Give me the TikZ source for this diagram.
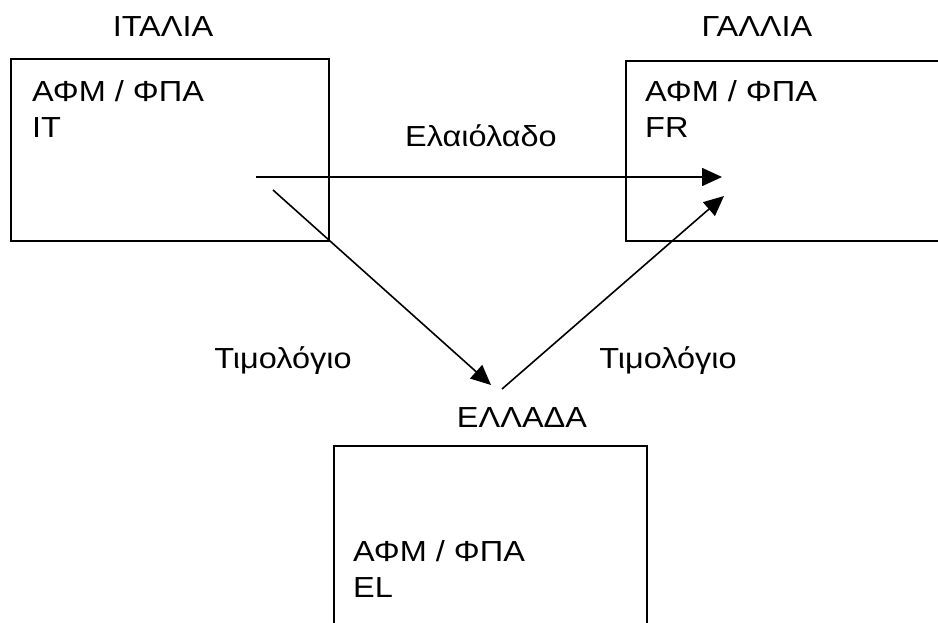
\documentclass[tikz,border=0pt]{standalone}
\usepackage{fontspec}
\setmainfont[FakeStretch=1.12]{Liberation Sans}
\usetikzlibrary{arrows.meta}

\tikzset{
  country/.style={draw, line width=1.8pt, anchor=north west, inner sep=0pt},
  vatinfo/.style={anchor=north west, inner sep=0pt, align=left,
    font=\fontsize{29}{36}\selectfont},
  caption/.style={anchor=base, inner sep=0pt, font=\fontsize{29}{34}\selectfont},
  flow/.style={line width=1.6pt, -{Triangle[length=20pt, width=18pt]}}
}

\begin{document}
\begin{tikzpicture}[x=1pt, y=-1pt]
    \useasboundingbox (0,0) rectangle (938,623);

    % countries
    \node[country, minimum width=318pt, minimum height=182pt] (italy) at (10,58) {};
    \node[country, minimum width=330pt, minimum height=180pt] (france) at (625,60) {};
    \node[country, minimum width=313pt, minimum height=200pt] (greece) at (333,445) {};

    \node[caption] (italyname) at (163,37) {ΙΤΑΛΙΑ};
    \node[caption] (francename) at (757,37) {ΓΑΛΛΙΑ};
    \node[caption] (greecename) at (522,427) {ΕΛΛΑΔΑ};

    \node[vatinfo] (italyvat) at (32,80) {ΑΦΜ / ΦΠΑ\\IT};
    \node[vatinfo] (francevat) at (645,80) {ΑΦΜ / ΦΠΑ\\FR};
    \node[vatinfo] (greecevat) at (353,540) {ΑΦΜ / ΦΠΑ\\EL};

    % flows of goods and invoices
    \coordinate (goodsfrom) at (256,177);
    \coordinate (goodsto) at (722,177);
    \coordinate (invfrom) at (273,190);
    \coordinate (invat) at (491,385);
    \coordinate (invnext) at (502,389);
    \coordinate (invto) at (724,196);

    \draw[flow] (goodsfrom) -- (goodsto);
    \draw[flow] (invfrom) -- (invat);
    \draw[flow] (invnext) -- (invto);

    \node[caption] (oil) at (481,147) {Ελαιόλαδο};
    \node[caption] (invleft) at (283,368) {Τιμολόγιο};
    \node[caption] (invright) at (668,368) {Τιμολόγιο};
\end{tikzpicture}
\end{document}
